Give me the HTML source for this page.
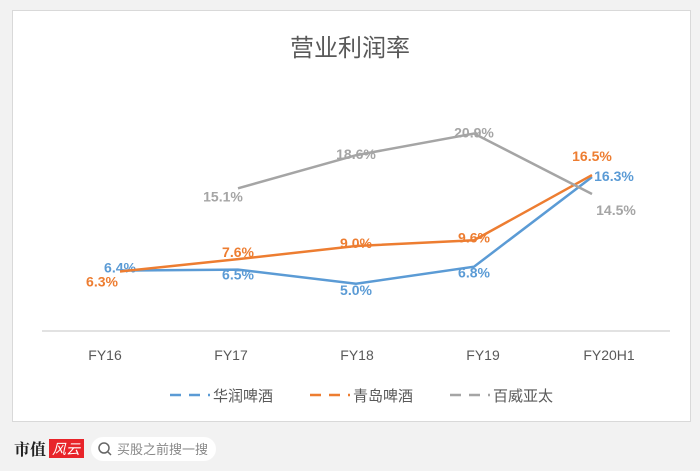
<!DOCTYPE html>
<html><head><meta charset="utf-8"><style>
body{margin:0;width:700px;height:471px;background:#f2f2f2;overflow:hidden;font-family:"Liberation Sans","Noto Sans CJK SC",sans-serif}
#card{position:absolute;left:12px;top:10px;width:677px;height:410px;background:#fff;border:1px solid #d9d9d9}
</style></head><body>
<div id="card"></div>
<svg width="700" height="471" style="position:absolute;left:0;top:0" id="chart">
<text x="350" y="56" text-anchor="middle" font-size="24" fill="#595959" font-family="Liberation Sans,Noto Sans CJK SC,sans-serif">营业利润率</text>
<line x1="42" y1="331" x2="670" y2="331" stroke="#d9d9d9" stroke-width="1.5"/>
<g id="marks"></g>
<g id="legend"></g>
<g>
<text x="14" y="455" font-size="16" font-weight="bold" fill="#222" font-family="Noto Serif CJK SC,serif">市值</text>
<rect x="49" y="439" width="35" height="19" fill="#e8242a"/>
<text x="52" y="454" font-size="14" fill="#fff" font-style="italic" font-family="Noto Sans CJK SC,sans-serif">风云</text>
<rect x="91" y="437" width="125" height="24" rx="12" fill="#fff"/>
<circle cx="104" cy="448" r="5" fill="none" stroke="#666" stroke-width="1.5"/>
<line x1="108" y1="452" x2="111" y2="455" stroke="#666" stroke-width="1.5"/>
<text x="117" y="454" font-size="13" fill="#888" font-family="Noto Sans CJK SC,sans-serif">买股之前搜一搜</text>
</g>
</svg>
<script>
const categories=["FY16","FY17","FY18","FY19","FY20H1"];
const seriesNames=["华润啤酒","青岛啤酒","百威亚太"];
const crb=[6.4,6.5,5.0,6.8,16.3];
const tsingtao=[6.3,7.6,9.0,9.6,16.5];
const budweiser=[null,15.1,18.6,20.9,14.5];
const colors=["#5b9bd5","#ed7d31","#a5a5a5"];
const all=[crb,tsingtao,budweiser];
const xP=i=>120+118*i, xL=i=>105+126*i, y=v=>331-9.45*v;
const ns="http://www.w3.org/2000/svg";
const g=document.getElementById('marks');
function mk(t,a,p){const e=document.createElementNS(ns,t);for(const k in a)e.setAttribute(k,a[k]);(p||g).appendChild(e);return e;}
categories.forEach((c,i)=>{const t=mk('text',{x:xL(i),y:360,'text-anchor':'middle','font-size':14,fill:'#595959'});t.textContent=c;

});
const offs=[[[0,-3],[0,5],[0,6],[0,6],[22,-1]],[[-18,10],[0,-7],[0,-3],[0,-3],[0,-19]],[[0,0],[-15,8],[0,-1],[0,-1],[24,16]]];
all.forEach((s,k)=>{let d='';s.forEach((v,i)=>{if(v==null)return;d+=(d?'L':'M')+xP(i)+','+y(v);});
const p=mk('path',{d,fill:'none',stroke:colors[k],'stroke-width':2.5});


s.forEach((v,i)=>{if(v==null)return;const t=mk('text',{x:xP(i)+offs[k][i][0],y:y(v)+5+offs[k][i][1],'text-anchor':'middle','font-size':14,'font-weight':'bold',fill:colors[k]});t.textContent=v.toFixed(1)+'%';

});});
const lg=document.getElementById('legend');
seriesNames.forEach((n,k)=>{const x0=170+140*k;
mk('line',{x1:x0,y1:395,x2:x0+40,y2:395,stroke:colors[k],'stroke-width':2.5,'stroke-dasharray':'11,8'},lg);
const t=mk('text',{x:x0+43,y:401,'font-size':15,fill:'#595959'},lg);t.textContent=n;

});
</script>
</body></html>
